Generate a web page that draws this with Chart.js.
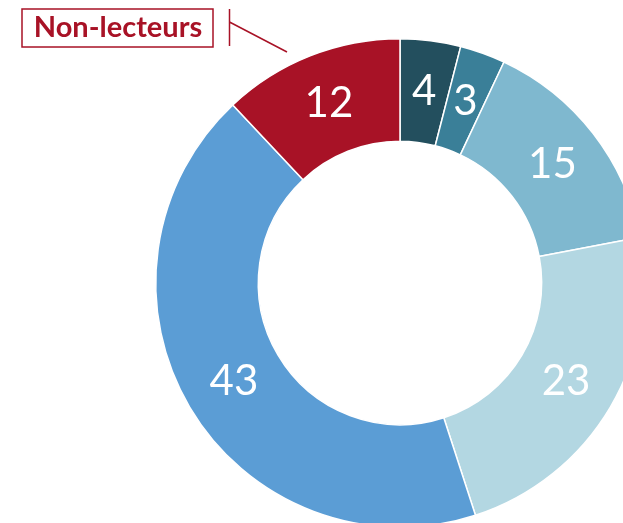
<!DOCTYPE html>
<html lang="fr">
<head>
<meta charset="utf-8">
<title>Lecteurs</title>
<script src="https://cdn.jsdelivr.net/npm/chart.js@4"></script>
<style>
  html, body { margin: 0; padding: 0; background: #fff; }
  #wrap { width: 623px; height: 523px; overflow: hidden; position: relative; }
  #chart { position: absolute; left: 0; top: 0; }
</style>
</head>
<body>
<div id="wrap"><canvas id="chart" width="700" height="600"></canvas></div>
<script>
// share of readers per group, clockwise from the top
const categories = ["Groupe 1", "Groupe 2", "Groupe 3", "Groupe 4", "Groupe 5", "Non-lecteurs"];
const values = [4, 3, 15, 23, 43, 12];
const colors = ["#234f5e", "#3a7f98", "#7fb8cf", "#b3d7e2", "#5b9dd5", "#a81226"];
const calloutText = "Non-lecteurs";

const RED = "#a81226";

// white numbers in the middle of each ring segment
const segmentLabels = {
    id: "segmentLabels",
    afterDatasetsDraw(chart) {
        const ctx = chart.ctx;
        const meta = chart.getDatasetMeta(0);
        ctx.save();
        ctx.fillStyle = "#fff";
        ctx.font = "42px Lato";
        ctx.textAlign = "center";
        ctx.textBaseline = "middle";
        meta.data.forEach((arc, i) => {
            const p = arc.getCenterPoint();
            ctx.fillText(String(values[i]), p.x, p.y);
        });
        ctx.restore();
    }
};

// boxed callout with a leader line to the red slice
const callout = {
    id: "callout",
    afterDraw(chart) {
        const ctx = chart.ctx;
        ctx.save();
        ctx.strokeStyle = RED;
        ctx.lineWidth = 1.5;
        ctx.strokeRect(22, 9, 191, 38);
        ctx.beginPath();
        ctx.moveTo(229.5, 9);
        ctx.lineTo(229.5, 46);
        ctx.moveTo(229.5, 22);
        ctx.lineTo(287, 52);
        ctx.stroke();
        ctx.fillStyle = RED;
        ctx.font = "bold 29px Lato";
        ctx.textAlign = "center";
        ctx.textBaseline = "middle";
        ctx.fillText(calloutText, 118, 28);
        ctx.restore();
    }
};

new Chart(document.getElementById("chart"), {
    type: "doughnut",
    data: {
        labels: categories,
        datasets: [{
            data: values,
            backgroundColor: colors,
            borderColor: "#fff",
            borderWidth: 1.5
        }]
    },
    options: {
        responsive: false,
        animation: false,
        cutout: "58%",
        layout: { padding: { left: 155, top: 38, right: 55, bottom: 72 } },
        plugins: {
            legend: { display: false },
            tooltip: { enabled: false }
        }
    },
    plugins: [segmentLabels, callout]
});
</script>
</body>
</html>
